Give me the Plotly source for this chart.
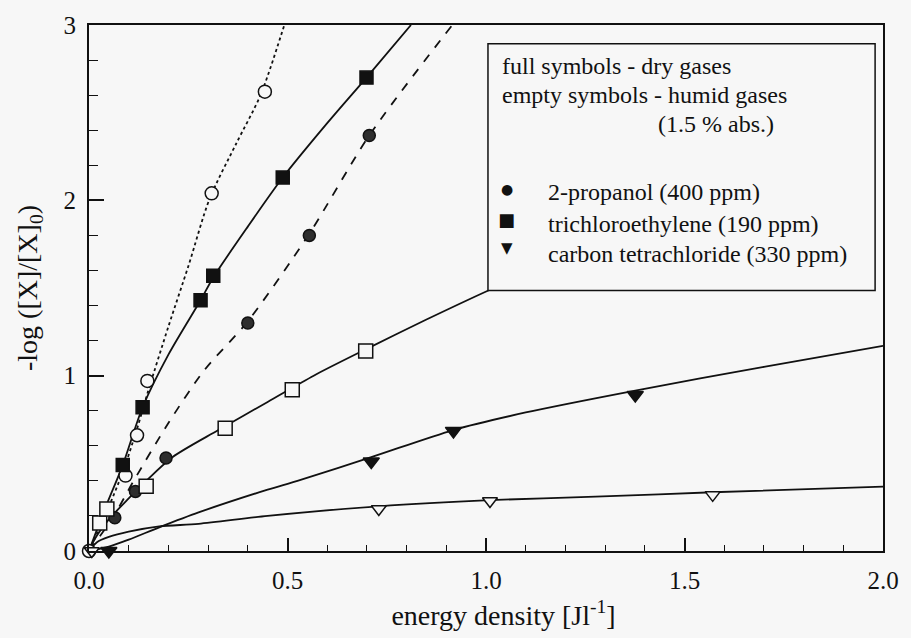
import plotly.graph_objects as go

# ---------------- data ----------------
# humid 2-propanol (empty circles, dotted fit)
hp_x = [0.0, 0.092, 0.121, 0.147, 0.309, 0.443]
hp_y = [0.0, 0.43, 0.66, 0.97, 2.04, 2.62]
hp_fit_x = [0.0, 0.04, 0.085, 0.12, 0.15, 0.2, 0.251, 0.304, 0.37, 0.432, 0.492]
hp_fit_y = [0.0, 0.2, 0.45, 0.69, 0.92, 1.28, 1.63, 2.01, 2.32, 2.60, 3.0]

# dry trichloroethylene (filled squares, solid fit)
dt_x = [0.085, 0.135, 0.281, 0.313, 0.488, 0.699]
dt_y = [0.49, 0.82, 1.43, 1.57, 2.13, 2.70]
dt_fit_x = [0.0, 0.04, 0.085, 0.135, 0.2, 0.281, 0.313, 0.4, 0.488, 0.6, 0.699, 0.811]
dt_fit_y = [0.0, 0.24, 0.49, 0.82, 1.12, 1.43, 1.56, 1.85, 2.13, 2.44, 2.70, 3.0]

# dry 2-propanol (filled circles, dashed fit)
dp_x = [0.065, 0.117, 0.194, 0.40, 0.555, 0.706]
dp_y = [0.19, 0.34, 0.53, 1.30, 1.80, 2.37]
dp_fit_x = [0.0, 0.06, 0.11, 0.2, 0.29, 0.40, 0.555, 0.706, 0.915]
dp_fit_y = [0.0, 0.19, 0.39, 0.73, 1.03, 1.31, 1.81, 2.37, 3.0]

# humid trichloroethylene (empty squares, solid fit)
ht_x = [0.027, 0.045, 0.144, 0.343, 0.512, 0.697]
ht_y = [0.16, 0.24, 0.37, 0.70, 0.92, 1.14]
ht_fit_x = [0.0, 0.015, 0.05, 0.1, 0.144, 0.21, 0.326, 0.45, 0.566, 0.697, 0.85, 1.01, 1.2]
ht_fit_y = [0.0, 0.07, 0.18, 0.30, 0.40, 0.535, 0.69, 0.85, 1.0, 1.15, 1.32, 1.49, 1.68]

# dry carbon tetrachloride (filled triangles, solid fit)
dc_x = [0.05, 0.711, 0.918, 1.376]
dc_y = [0.0, 0.51, 0.685, 0.89]
dc_fit_x = [0.0, 0.05, 0.1, 0.177, 0.276, 0.45, 0.525, 0.711, 0.918, 1.1, 1.376, 1.7, 2.0]
dc_fit_y = [0.0, 0.025, 0.065, 0.135, 0.22, 0.35, 0.40, 0.535, 0.69, 0.79, 0.915, 1.05, 1.17]

# humid carbon tetrachloride (empty triangles, solid fit)
hc_x = [0.007, 0.73, 1.01, 1.571]
hc_y = [0.0, 0.24, 0.285, 0.32]
hc_fit_x = [0.0, 0.02, 0.05, 0.1, 0.177, 0.276, 0.45, 0.73, 1.01, 1.276, 1.571, 2.0]
hc_fit_y = [0.0, 0.05, 0.08, 0.11, 0.14, 0.155, 0.20, 0.255, 0.29, 0.31, 0.335, 0.367]

x_ticks = [0.0, 0.5, 1.0, 1.5, 2.0]
y_ticks = [0, 1, 2, 3]

header_lines = ["full symbols - dry gases", "empty symbols - humid gases", "(1.5 % abs.)"]
legend_names = ["2-propanol (400 ppm)", "trichloroethylene (190 ppm)", "carbon tetrachloride (330 ppm)"]
legend_glyphs = ["\u25CF", "\u25A0", "\u25BC"]

BG = "#f7f7f7"
INK = "#111111"
SERIF = "Liberation Serif"

fig = go.Figure()

def fit(x, y, dash):
    fig.add_trace(go.Scatter(x=x, y=y, mode="lines",
                             line=dict(color=INK, width=1.8, dash=dash, shape="spline", smoothing=0.8),
                             showlegend=False, hoverinfo="skip"))

def pts(x, y, symbol, size, fill):
    fig.add_trace(go.Scatter(x=x, y=y, mode="markers", cliponaxis=False,
                             marker=dict(symbol=symbol, size=size, color=fill,
                                         line=dict(color=INK, width=1.5)),
                             showlegend=False))

fit(hp_fit_x, hp_fit_y, "dot")
fit(dt_fit_x, dt_fit_y, "solid")
fit(dp_fit_x, dp_fit_y, "dash")
fit(ht_fit_x, ht_fit_y, "solid")
fit(dc_fit_x, dc_fit_y, "solid")
fit(hc_fit_x, hc_fit_y, "solid")

pts(hp_x, hp_y, "circle", 13, BG)
pts(dt_x, dt_y, "square", 13, INK)
pts(dp_x, dp_y, "circle", 12, "#2e2e2e")
pts(ht_x, ht_y, "square", 14, BG)
pts(dc_x, dc_y, "triangle-down", 14, INK)
pts(hc_x, hc_y, "triangle-down", 13, BG)

# legend box (drawn above the curves, like the original's opaque box)
L, R, T, B = 89, 893, 17, 552
def px(v): return (v - L) / (R - L)
def py(v): return (B - v) / (B - T)

fig.add_shape(type="rect", xref="paper", yref="paper",
              x0=px(493), x1=px(885), y0=py(287), y1=py(36),
              line=dict(color=INK, width=1.5), fillcolor=BG, layer="above")

ann = []
for txt, xx, yy in zip(header_lines, [505, 505, 663], [59, 88, 118]):
    ann.append(dict(text=txt, x=px(xx), y=py(yy), xref="paper", yref="paper",
                    xanchor="left", yanchor="middle", showarrow=False,
                    font=dict(family=SERIF, size=24, color=INK)))
for txt, yy in zip(legend_names, [187, 219, 250]):
    ann.append(dict(text=txt, x=px(552), y=py(yy), xref="paper", yref="paper",
                    xanchor="left", yanchor="middle", showarrow=False,
                    font=dict(family=SERIF, size=24, color=INK)))
for g, yy, sz in zip(legend_glyphs, [184, 215, 244], [14, 18, 15]):
    ann.append(dict(text=g, x=px(512), y=py(yy), xref="paper", yref="paper",
                    xanchor="center", yanchor="middle", showarrow=False,
                    font=dict(family="DejaVu Sans", size=sz, color=INK)))

fig.update_layout(
    width=911, height=638,
    margin=dict(l=89, r=18, t=17, b=86),
    paper_bgcolor=BG, plot_bgcolor=BG,
    font=dict(family=SERIF, color=INK),
    annotations=ann,
    showlegend=False,
)

fig.update_xaxes(
    range=[0, 2.0], tickvals=x_ticks, ticktext=[f"{v:.1f}" for v in x_ticks],
    ticks="inside", ticklen=13, tickwidth=1.5, tickcolor=INK,
    minor=dict(dtick=0.1, tick0=0, ticks="inside", ticklen=6, tickwidth=1.2, tickcolor=INK),
    showline=True, linewidth=2, linecolor=INK, mirror=True,
    showgrid=False, zeroline=False,
    tickfont=dict(family=SERIF, size=25, color=INK),
    ticklabelstandoff=6,
    title=dict(text="&nbsp;&nbsp;&nbsp;&nbsp;&nbsp;energy density [Jl<sup>-1</sup>]",
               font=dict(family=SERIF, size=28, color=INK), standoff=12),
)
fig.update_yaxes(
    range=[0, 3], tickvals=y_ticks, ticktext=[str(v) for v in y_ticks],
    ticks="inside", ticklen=15, tickwidth=1.5, tickcolor=INK,
    minor=dict(dtick=0.2, tick0=0, ticks="inside", ticklen=9, tickwidth=1.2, tickcolor=INK),
    showline=True, linewidth=2, linecolor=INK, mirror=True,
    showgrid=False, zeroline=False,
    tickfont=dict(family=SERIF, size=25, color=INK),
    ticklabelstandoff=6,
    title=dict(text="-log ([X]/[X]<sub>0</sub>)", font=dict(family=SERIF, size=28, color=INK), standoff=18),
)

fig.write_html("out.html")
